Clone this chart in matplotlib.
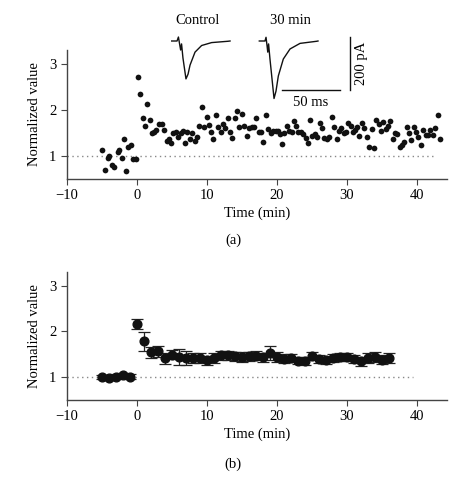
import matplotlib
matplotlib.use("Agg")
import matplotlib.pyplot as plt

plt.rcParams['font.family'] = ['Liberation Serif', 'DejaVu Serif']
plt.rcParams['font.size'] = 10.5

# ---------------- data: panel (a), individual sweeps ----------------
time_a = [-4.95, -4.57, -4.19, -4.0, -3.62, -3.24, -2.76, -2.52, -2.19, -1.81, -1.57, -1.24, -0.9, -0.52, -0.19,
          0.1, 0.48, 0.81, 1.14, 1.48, 1.86, 2.19, 2.48, 2.71, 3.19, 3.52, 3.86, 4.24, 4.57, 4.86, 5.19, 5.52,
          5.9, 6.29, 6.62, 6.86, 7.19, 7.57, 7.9, 8.24, 8.62, 8.9, 9.29, 9.57, 9.95, 10.29, 10.57, 10.9, 11.29,
          11.57, 11.95, 12.24, 12.57, 12.95, 13.29, 13.62, 14.0, 14.33, 14.62, 15.0, 15.33, 15.67, 16.0, 16.38,
          16.71, 17.0, 17.38, 17.71, 18.05, 18.38, 18.76, 19.14, 19.48, 19.81, 20.19, 20.43, 20.76, 21.05, 21.38,
          21.71, 22.1, 22.43, 22.71, 23.05, 23.43, 23.76, 24.1, 24.38, 24.71, 25.05, 25.43, 25.76, 26.14, 26.48,
          26.76, 27.14, 27.48, 27.81, 28.14, 28.52, 28.86, 29.14, 29.52, 29.86, 30.19, 30.52, 30.9, 31.14, 31.48,
          31.76, 32.19, 32.48, 32.81, 33.19, 33.52, 33.86, 34.19, 34.52, 34.86, 35.19, 35.52, 35.86, 36.19, 36.52,
          36.86, 37.19, 37.52, 37.81, 38.14, 38.52, 38.86, 39.19, 39.57, 39.86, 40.19, 40.57, 40.9, 41.24, 41.57,
          41.86, 42.24, 42.62, 42.95, 43.29]
value_a = [1.12, 0.70, 0.95, 1.0, 0.80, 0.75, 1.09, 1.13, 0.95, 1.37, 0.67, 1.19, 1.24, 0.94, 0.94,
           2.71, 2.35, 1.83, 1.65, 2.12, 1.78, 1.49, 1.53, 1.57, 1.69, 1.70, 1.57, 1.33, 1.37, 1.29, 1.49, 1.51,
           1.42, 1.49, 1.54, 1.28, 1.51, 1.36, 1.49, 1.33, 1.42, 1.64, 2.07, 1.62, 1.85, 1.67, 1.53, 1.37, 1.89,
           1.62, 1.53, 1.69, 1.60, 1.82, 1.51, 1.38, 1.82, 1.98, 1.62, 1.91, 1.65, 1.44, 1.60, 1.62,
           1.62, 1.83, 1.53, 1.53, 1.31, 1.88, 1.58, 1.49, 1.54, 1.55, 1.54, 1.47, 1.26, 1.49, 1.65,
           1.54, 1.53, 1.75, 1.64, 1.53, 1.51, 1.47, 1.38, 1.29, 1.77, 1.43, 1.47, 1.42, 1.71, 1.60,
           1.38, 1.37, 1.42, 1.85, 1.62, 1.37, 1.54, 1.60, 1.49, 1.51, 1.71, 1.64, 1.51, 1.57, 1.62,
           1.43, 1.71, 1.60, 1.41, 1.19, 1.58, 1.17, 1.77, 1.70, 1.54, 1.73, 1.58, 1.64, 1.75, 1.36,
           1.49, 1.47, 1.20, 1.24, 1.31, 1.62, 1.49, 1.35, 1.62, 1.51, 1.41, 1.24, 1.57, 1.46, 1.46,
           1.57, 1.46, 1.60, 1.88, 1.36]

# ---------------- data: panel (b), averages ----------------
time_b = list(range(-5, 0)) + list(range(0, 37))
mean_b = [1.0, 0.98, 1.01, 1.04, 1.01,
          2.17, 1.78, 1.54, 1.57, 1.41, 1.49, 1.44, 1.42, 1.42, 1.42, 1.37, 1.42, 1.48, 1.48, 1.46,
          1.44, 1.46, 1.47, 1.43, 1.53, 1.44, 1.40, 1.42, 1.36, 1.35, 1.46, 1.40, 1.37, 1.42, 1.44,
          1.44, 1.40, 1.35, 1.42, 1.44, 1.38, 1.42]
sem_b = [0.05, 0.04, 0.05, 0.05, 0.05,
         0.11, 0.21, 0.12, 0.12, 0.12, 0.10, 0.17, 0.15, 0.10, 0.10, 0.10, 0.10, 0.10, 0.10, 0.10,
         0.10, 0.10, 0.10, 0.10, 0.16, 0.10, 0.10, 0.08, 0.08, 0.08, 0.08, 0.08, 0.08, 0.08, 0.08,
         0.08, 0.08, 0.10, 0.10, 0.10, 0.10, 0.10]

# ---------------- data: example traces (ms, pA) ----------------
ctrl_t = [0, 4.6, 5.8, 6.8, 7.7, 8.5, 9.7, 12.3, 14.1, 15.8, 20.1, 25.8, 34.4, 48.5, 50.3]
ctrl_i = [0, 0, 15, -11, -34, -11, -64, -143, -125, -91, -42, -17, -6, -1, 0]
late_t = [0, 4.9, 5.8, 6.6, 7.3, 8.0, 9.2, 12.7, 14.4, 16.4, 20.7, 26.5, 35.1, 49.5, 50.6]
late_i = [0, 0, 14, -15, -42, -11, -68, -217, -189, -132, -68, -30, -9, -1, 0]
trace_labels = ["Control", "30 min"]

W, H = 467, 493
fig = plt.figure(figsize=(W / 100, H / 100), dpi=100)

def fx(px):
    return px / W

def fy(py):
    return 1 - py / H

spine_col = '#444444'

def style(ax):
    for s in ['top', 'right']:
        ax.spines[s].set_visible(False)
    for s in ['left', 'bottom']:
        ax.spines[s].set_color(spine_col)
        ax.spines[s].set_linewidth(1.0)
    ax.tick_params(direction='out', length=4, width=0.8, color=spine_col, labelsize=10.5)
    ax.set_xlim(-10, 44.3)
    ax.set_ylim(0.5, 3.3)
    ax.set_xticks([-10, 0, 10, 20, 30, 40])
    ax.set_yticks([1, 2, 3])
    ax.set_xlabel('Time (min)', fontsize=10.5, labelpad=3)
    ax.set_ylabel('Normalized value', fontsize=10.5, labelpad=6)

# panel (a)
ax1 = fig.add_axes([fx(67), fy(179), fx(447) - fx(67), fy(50) - fy(179)])
style(ax1)
ax1.plot([-10, 42.3], [1, 1], color='#888888', lw=1.0, ls=(0, (1, 2.5)))
ax1.scatter(time_a, value_a, s=17, color='#111111', zorder=3, linewidths=0)

# panel (b)
ax2 = fig.add_axes([fx(67), fy(400), fx(447) - fx(67), fy(272) - fy(400)])
style(ax2)
ax2.plot([-10, 39.4], [1, 1], color='#888888', lw=1.0, ls=(0, (1, 2.5)))
ax2.errorbar(time_b, mean_b, yerr=sem_b, fmt='o', ms=6.3, color='#111111',
             ecolor='#222222', elinewidth=0.9, capsize=4, capthick=0.9, zorder=3)

fig.text(fx(233), fy(240), '(a)', ha='center', va='center', fontsize=10.5)
fig.text(fx(233), fy(464), '(b)', ha='center', va='center', fontsize=10.5)

# inset traces
ins = fig.add_axes([fx(165), fy(105), fx(365) - fx(165), fy(30) - fy(105)])
ins.set_xlim(0, 200 / 1.16)
ins.set_ylim(-(105 - 41) / 0.265, (41 - 30) / 0.265)
ins.axis('off')
ctrl_off = (171.7 - 165) / 1.16
late_off = (259.3 - 165) / 1.16
ins.plot([t + ctrl_off for t in ctrl_t], ctrl_i, color='#111111', lw=1.0)
ins.plot([t + late_off for t in late_t], late_i, color='#111111', lw=1.0)
ins.plot([100.5, 150.5], [-185, -185], color='#111111', lw=1.0)
ins.plot([159.5, 159.5], [15, -185], color='#111111', lw=1.0)
fig.text(fx(198), fy(21), trace_labels[0], ha='center', va='center', fontsize=10.5)
fig.text(fx(290), fy(21), trace_labels[1], ha='center', va='center', fontsize=10.5)
fig.text(fx(311), fy(103), '50 ms', ha='center', va='center', fontsize=10.5)
fig.text(fx(361), fy(63), '200 pA', ha='center', va='center', fontsize=10.5, rotation=90)

fig.savefig('out.png', dpi=100)
